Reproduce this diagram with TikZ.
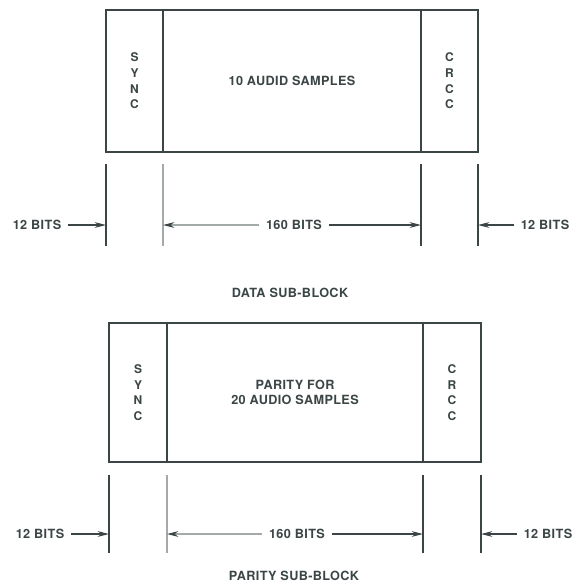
\documentclass[tikz,border=0pt]{standalone}
\usepackage{fontspec}
\setmainfont[LetterSpace=3]{TeX Gyre Heros}
\usetikzlibrary{arrows.meta,positioning}
\definecolor{inkgray}{HTML}{3B4545}
\definecolor{fadegray}{HTML}{A4AAAA}

\begin{document}
\begin{tikzpicture}[
  x=0.75pt,
  y=-0.75pt,
  font=\bfseries\fontsize{9.5}{11.5}\selectfont,
  text=inkgray,
  >=Stealth,
  field/.style={draw=inkgray, line width=1.4pt, inner sep=0pt, outer sep=0pt, anchor=north west, align=center},
  letters/.style={field, font=\bfseries\fontsize{9}{11.7}\selectfont},
  tick/.style={draw=inkgray, line width=1.2pt},
  faint/.style={draw=fadegray, line width=1.6pt},
  dim/.style={-{Stealth[length=3mm, width=1.5mm, color=inkgray]}, draw=inkgray, line width=0.8pt},
  bits/.style={inner xsep=5pt, inner ysep=2pt}
]
\useasboundingbox (0,0) rectangle (580,586);

% data sub-block
\node[letters, minimum width=42.75pt, minimum height=106.5pt] (sync1) at (106,10) {S\\Y\\N\\C};
\node[field, minimum width=193.5pt, minimum height=106.5pt] (data1) at (sync1.north east) {10 AUDID SAMPLES};
\node[letters, minimum width=42.75pt, minimum height=106.5pt] (crcc1) at (data1.north east) {C\\R\\C\\C};

\foreach \n/\x in {a/106,c/421,d/478} {
  \draw[tick] (\x,164) -- (\x,246);
  \coordinate (top\n) at (\x,225);
}
\draw[faint] (163,164) -- (163,246);
\coordinate (topb) at (163,225);

\node[bits] (lbits1) at (37,225) {12 BITS};
\node[bits] (mbits1) at (294,225) {160 BITS};
\node[bits] (rbits1) at (545,225) {12 BITS};
\draw[dim] (lbits1) -- (topa);
\draw[dim, draw=fadegray] (mbits1) -- (topb);
\draw[dim] (mbits1) -- (topc);
\draw[dim] (rbits1) -- (topd);
\node (cap1) at (290,293) {DATA SUB-BLOCK};

% parity sub-block
\node[letters, minimum width=43.5pt, minimum height=104.25pt] (sync2) at (109,323) {S\\Y\\N\\C};
\node[field, minimum width=192pt, minimum height=104.25pt] (data2) at (sync2.north east) {PARITY FOR\\20 AUDIO SAMPLES};
\node[letters, minimum width=43.5pt, minimum height=104.25pt] (crcc2) at (data2.north east) {C\\R\\C\\C};

\foreach \n/\x in {a/109,c/423,d/481} {
  \draw[tick] (\x,475) -- (\x,553);
  \coordinate (bot\n) at (\x,534);
}
\draw[faint] (167,475) -- (167,553);
\coordinate (botb) at (167,534);

\node[bits] (lbits2) at (40,534) {12 BITS};
\node[bits] (mbits2) at (297,534) {160 BITS};
\node[bits] (rbits2) at (548,534) {12 BITS};
\draw[dim] (lbits2) -- (bota);
\draw[dim, draw=fadegray] (mbits2) -- (botb);
\draw[dim] (mbits2) -- (botc);
\draw[dim] (rbits2) -- (botd);
\node (cap2) at (294,576) {PARITY SUB-BLOCK};

\end{tikzpicture}
\end{document}
